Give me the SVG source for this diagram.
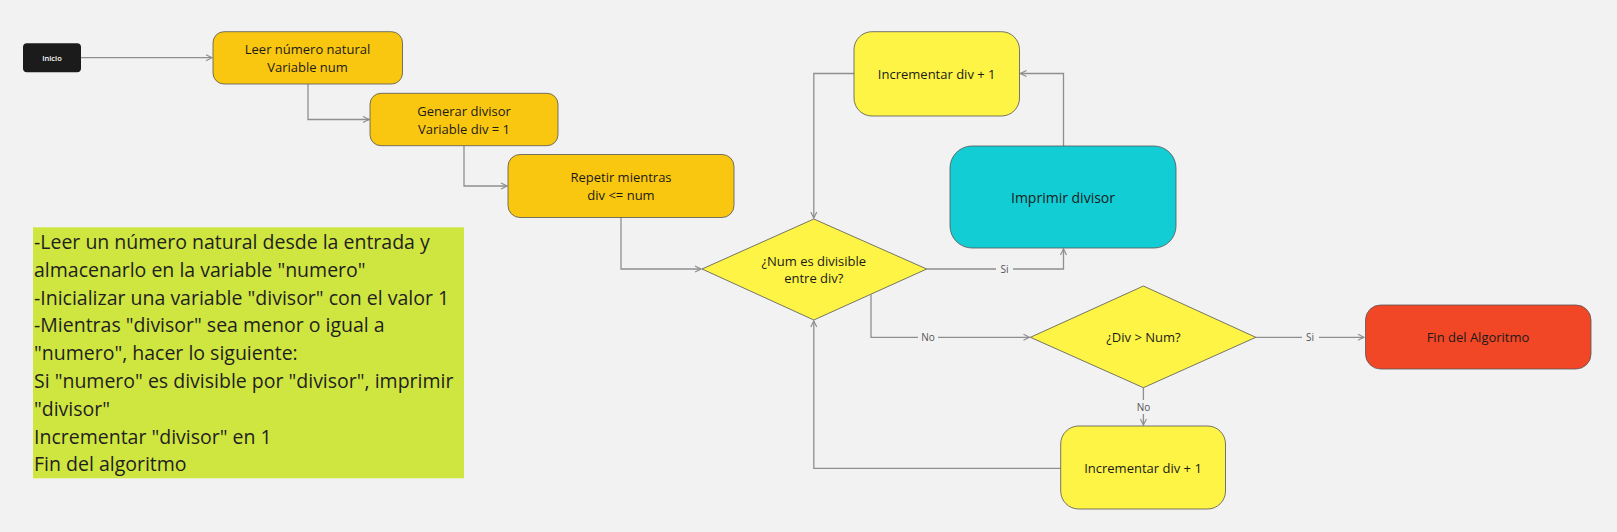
<svg xmlns="http://www.w3.org/2000/svg" width="1617" height="532" viewBox="0 0 1617 532">
<defs>
<style>
.bg{fill:#f2f2f2}
.box{stroke:#555;stroke-width:1;stroke-opacity:0.8}
.t{font-family:"Open Sans","Noto Sans",sans-serif;font-size:13px;fill:#1a1a1a;text-anchor:middle}
.big{font-size:14px}
.c{fill:none;stroke:#8f8f8f;stroke-width:1.3}
.lbl{font-family:"Open Sans","Noto Sans",sans-serif;font-size:10px;fill:#555;text-anchor:middle}
.note{font-family:"Open Sans","Noto Sans",sans-serif;font-size:19.5px;fill:#1f1f1f}
</style>
<marker id="ar" viewBox="0 0 8 8" refX="7" refY="4" markerWidth="8" markerHeight="8" markerUnits="userSpaceOnUse" orient="auto">
<path d="M1,1 L7,4 L1,7" fill="none" stroke="#8f8f8f" stroke-width="1.2"/>
</marker>
</defs>
<rect class="bg" x="0" y="0" width="1617" height="532"/>

<g id="connectors">
<path class="c" d="M81,57.7 H212" marker-end="url(#ar)"/>
<path class="c" d="M308,84 V119.5 H369" marker-end="url(#ar)"/>
<path class="c" d="M464,146 V186 H507" marker-end="url(#ar)"/>
<path class="c" d="M621,217 V269 H701" marker-end="url(#ar)"/>
<path class="c" d="M854,73.5 H813.8 V218" marker-end="url(#ar)"/>
<path class="c" d="M1063.5,146 V73.5 H1020.5" marker-end="url(#ar)"/>
<path class="c" d="M926.7,269 H1063.5 V249" marker-end="url(#ar)"/>
<path class="c" d="M871,294.5 V337.3 H1029.5" marker-end="url(#ar)"/>
<path class="c" d="M1255.8,337.3 H1364" marker-end="url(#ar)"/>
<path class="c" d="M1143.4,387.7 V425" marker-end="url(#ar)"/>
<path class="c" d="M1060.7,468.3 H813.8 V321" marker-end="url(#ar)"/>
<rect class="bg" x="996" y="262" width="17" height="14"/>
<text class="lbl" x="1004.5" y="272.5">Si</text>
<rect class="bg" x="918" y="330" width="20" height="14"/>
<text class="lbl" x="928" y="340.8">No</text>
<rect class="bg" x="1302" y="330" width="17" height="14"/>
<text class="lbl" x="1310" y="340.8">Si</text>
<rect class="bg" x="1133" y="400" width="20" height="14"/>
<text class="lbl" x="1143.4" y="410.5">No</text>
</g>

<g id="inicio">
<rect x="23" y="43.3" width="58" height="29" rx="4" fill="#1b1b1b"/>
<text x="52" y="60.5" font-family="'Open Sans','Noto Sans',sans-serif" font-size="7.5" font-weight="600" fill="#ffffff" text-anchor="middle">Inicio</text>
</g>

<g id="leer">
<rect class="box" x="213" y="31.7" width="189.5" height="52.3" rx="11" fill="#fac710"/>
<text class="t" x="307.5" y="54">Leer número natural</text>
<text class="t" x="307.5" y="72.4">Variable num</text>
</g>

<g id="generar">
<rect class="box" x="370" y="93.3" width="188" height="52.4" rx="11" fill="#fac710"/>
<text class="t" x="464" y="116.3">Generar divisor</text>
<text class="t" x="464" y="133.7">Variable div = 1</text>
</g>

<g id="repetir">
<rect class="box" x="508" y="154.5" width="226" height="63" rx="12" fill="#fac710"/>
<text class="t" x="621" y="182.3">Repetir mientras</text>
<text class="t" x="621" y="200.3">div &lt;= num</text>
</g>

<g id="incrementar-top">
<rect class="box" x="854" y="31.7" width="165.5" height="84.3" rx="18" fill="#fef445"/>
<text class="t" x="936.7" y="78.8">Incrementar div + 1</text>
</g>

<g id="imprimir">
<rect class="box" x="950" y="146" width="226" height="102" rx="22" fill="#12cdd4"/>
<text class="t big" x="1063" y="203">Imprimir divisor</text>
</g>

<g id="divisible">
<polygon class="box" points="702,269 813.8,219 926.7,269 813.8,320" fill="#fef445"/>
<text class="t" x="813.8" y="265.5">¿Num es divisible</text>
<text class="t" x="813.8" y="282.8">entre div?</text>
</g>

<g id="mayor">
<polygon class="box" points="1030.4,337.3 1143.4,286 1255.8,337.3 1143.4,387.7" fill="#fef445"/>
<text class="t" x="1143.4" y="341.8">¿Div &gt; Num?</text>
</g>

<g id="fin">
<rect class="box" x="1365.5" y="305" width="225.5" height="64" rx="15" fill="#f24726"/>
<text class="t" x="1478" y="341.5">Fin del Algoritmo</text>
</g>

<g id="incrementar-bottom">
<rect class="box" x="1060.7" y="426" width="164.8" height="83" rx="18" fill="#fef445"/>
<text class="t" x="1143" y="472.8">Incrementar div + 1</text>
</g>

<g id="nota">
<rect x="33" y="227.3" width="431" height="251" fill="#d0e640"/>
<text class="note" x="34" y="249">-Leer un número natural desde la entrada y</text>
<text class="note" x="34" y="276.8">almacenarlo en la variable "numero"</text>
<text class="note" x="34" y="304.6">-Inicializar una variable "divisor" con el valor 1</text>
<text class="note" x="34" y="332.4">-Mientras "divisor" sea menor o igual a</text>
<text class="note" x="34" y="360.2">"numero", hacer lo siguiente:</text>
<text class="note" x="34" y="388">Si "numero" es divisible por "divisor", imprimir</text>
<text class="note" x="34" y="415.8">"divisor"</text>
<text class="note" x="34" y="443.6">Incrementar "divisor" en 1</text>
<text class="note" x="34" y="471.4">Fin del algoritmo</text>
</g>
</svg>
